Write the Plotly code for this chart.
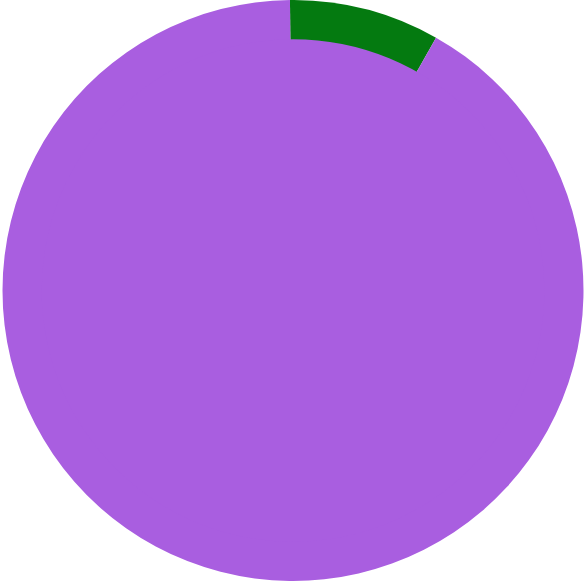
import plotly.graph_objects as go

labels = ["Green", "Purple"]
values = [8.36, 91.64]
colors = ["rgb(4,122,16)", "rgb(169,94,224)"]
inner_labels = ["Purple"]
inner_values = [100]
inner_colors = ["rgb(169,94,224)"]

W, H = 586, 581
r_outer = min(W, H) / 2
r_inner = r_outer * 0.865
cx, cy = W / 2, H / 2

fig = go.Figure()
fig.add_trace(go.Pie(
    labels=labels, values=values, sort=False, direction="clockwise", rotation=-0.6,
    marker=dict(colors=colors, line=dict(width=0)), textinfo="none",
    showlegend=False, domain=dict(x=[0, 1], y=[0, 1])))
fig.add_trace(go.Pie(
    labels=inner_labels, values=inner_values, sort=False,
    marker=dict(colors=inner_colors, line=dict(width=0)), textinfo="none",
    showlegend=False,
    domain=dict(x=[(cx - r_inner) / W, (cx + r_inner) / W],
                y=[(cy - r_inner) / H, (cy + r_inner) / H])))
fig.update_layout(width=W, height=H, margin=dict(l=0, r=0, t=0, b=0),
                  paper_bgcolor="white", plot_bgcolor="white", showlegend=False)
fig.write_html("out.html")
